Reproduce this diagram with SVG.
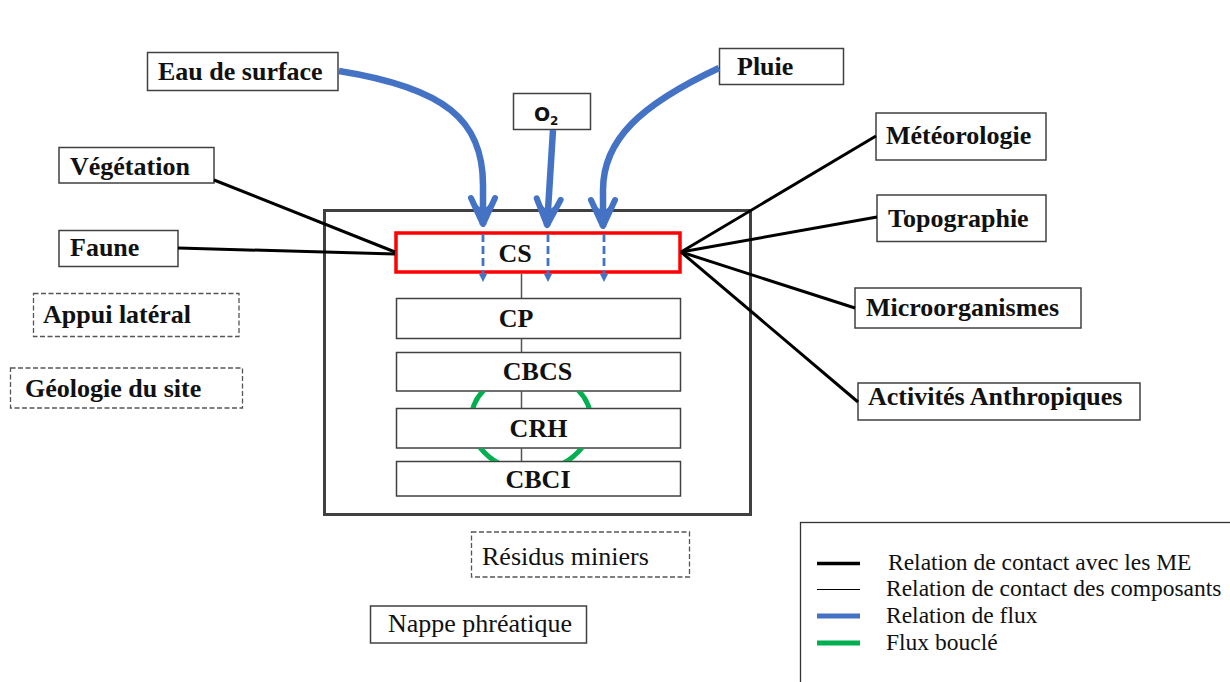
<svg xmlns="http://www.w3.org/2000/svg" width="1230" height="682" viewBox="0 0 1230 682">
<style>
.box{fill:#fff;stroke:#404040;stroke-width:1.5}
.dbox{fill:#fff;stroke:#555;stroke-width:1.3;stroke-dasharray:5 2.5}
.lb{font-family:"Liberation Serif","Times New Roman",serif;font-weight:bold;font-size:26px;fill:#111}
.lr{font-family:"Liberation Serif","Times New Roman",serif;font-size:26px;fill:#111}
.lg{font-family:"Liberation Serif","Times New Roman",serif;font-size:23.5px;fill:#111}
.me{stroke:#000;stroke-width:3;fill:none}
.comp{stroke:#555;stroke-width:1.5;fill:none}
.flux{stroke:#4472C4;stroke-width:6.5;fill:none;stroke-linecap:butt}
.fluxd{stroke:#4472C4;stroke-width:2.8;fill:none;stroke-dasharray:8 4}
.loop{stroke:#00B050;stroke-width:5;fill:none}
</style>
<defs>
<marker id="ah" markerUnits="userSpaceOnUse" orient="auto" overflow="visible" markerWidth="40" markerHeight="40" refX="0" refY="0">
<path d="M -27 -12 L -1 0 L -27 12" fill="none" stroke="#4472C4" stroke-width="6" stroke-linejoin="round" stroke-linecap="round"/>
<path d="M 0 0 L -22 -8 L -15 0 L -22 8 Z" fill="#4472C4"/>
</marker>
<marker id="ahs" markerUnits="userSpaceOnUse" orient="auto" overflow="visible" markerWidth="12" markerHeight="12" refX="0" refY="0">
<path d="M 0 0 L -8 -4 L -8 4 Z" fill="#4472C4"/>
</marker>
<clipPath id="gaps">
<rect x="380" y="391.5" width="320" height="16.5"/>
<rect x="380" y="448.5" width="320" height="12.5"/>
</clipPath>
</defs>
<rect width="1230" height="682" fill="#fff"/>

<g id="container">
<rect x="324.5" y="210.5" width="426" height="304" fill="none" stroke="#404040" stroke-width="3"/>
</g>

<g id="CS">
<rect x="396" y="233" width="284" height="39" fill="#fff" stroke="#FF0000" stroke-width="3.5"/>
<text class="lb" x="515" y="262" text-anchor="middle">CS</text>
</g>
<g id="CP">
<rect class="box" x="396.5" y="298.5" width="284" height="40"/>
<text class="lb" x="516" y="327" text-anchor="middle">CP</text>
</g>
<g id="CBCS">
<rect class="box" x="396.5" y="352.5" width="284" height="38.5"/>
<text class="lb" x="537.5" y="380" text-anchor="middle">CBCS</text>
</g>
<g id="CRH">
<rect class="box" x="396.5" y="408.5" width="284" height="39.5"/>
<text class="lb" x="538.5" y="437" text-anchor="middle">CRH</text>
</g>
<g id="CBCI">
<rect class="box" x="396.5" y="461.5" width="284" height="34.5"/>
<text class="lb" x="538" y="488" text-anchor="middle">CBCI</text>
</g>

<g id="eau-de-surface">
<rect class="box" x="147.5" y="52.5" width="190.5" height="38"/>
<text class="lb" x="158" y="80">Eau de surface</text>
</g>
<g id="pluie">
<rect class="box" x="719.5" y="48.5" width="124" height="36"/>
<text class="lb" x="737" y="75">Pluie</text>
</g>
<g id="o2">
<rect class="box" x="513.5" y="93.5" width="77" height="36"/>
<text x="534" y="121" font-family="'DejaVu Sans',sans-serif" font-weight="bold" font-size="19" fill="#111">O</text>
<text x="550" y="125" font-family="'DejaVu Sans',sans-serif" font-weight="bold" font-size="12" fill="#111">2</text>
</g>
<g id="vegetation">
<rect class="box" x="59" y="147.5" width="155" height="35.5"/>
<text class="lb" x="70" y="175">Végétation</text>
</g>
<g id="faune">
<rect class="box" x="59" y="230.5" width="119" height="36"/>
<text class="lb" x="70" y="256">Faune</text>
</g>
<g id="appui-lateral">
<rect class="dbox" x="33.5" y="293.5" width="205.5" height="43"/>
<text class="lb" x="43" y="323">Appui latéral</text>
</g>
<g id="geologie">
<rect class="dbox" x="10.5" y="368" width="232" height="40"/>
<text class="lb" x="25" y="397">Géologie du site</text>
</g>
<g id="meteorologie">
<rect class="box" x="876" y="113" width="170" height="47"/>
<text class="lb" x="886" y="144">Météorologie</text>
</g>
<g id="topographie">
<rect class="box" x="877" y="195" width="169" height="46.5"/>
<text class="lb" x="888" y="227">Topographie</text>
</g>
<g id="microorganismes">
<rect class="box" x="855" y="288" width="226" height="40"/>
<text class="lb" x="866" y="316">Microorganismes</text>
</g>
<g id="activites">
<rect class="box" x="858" y="383" width="282" height="37"/>
<text class="lb" x="868" y="405">Activités Anthropiques</text>
</g>
<g id="residus">
<rect class="dbox" x="471.5" y="532" width="218" height="45"/>
<text class="lr" x="482" y="565">Résidus miniers</text>
</g>
<g id="nappe">
<rect class="box" x="370.5" y="606" width="216" height="37"/>
<text class="lr" x="388" y="632">Nappe phréatique</text>
</g>

<g id="connectors">
<path class="me" d="M 214 180 L 395 252"/>
<path class="me" d="M 178 248 L 395 254"/>
<path class="me" d="M 681 252 L 876 136"/>
<path class="me" d="M 681 252 L 877 217"/>
<path class="me" d="M 681 252 L 855 308"/>
<path class="me" d="M 681 252 L 858 402"/>
<path class="comp" d="M 521.5 274 V 298 M 521.5 339 V 352 M 521.5 391 V 408 M 521.5 448 V 461"/>
<ellipse class="loop" cx="531" cy="421" rx="60" ry="50" clip-path="url(#gaps)"/>
<path class="flux" d="M 339 71 C 445 88 483 120 483 185 L 483 225" marker-end="url(#ah)"/>
<path class="flux" d="M 553 130 L 547 226" stroke-width="5.5" marker-end="url(#ah)"/>
<path class="flux" d="M 719 68 C 640 105 603 140 603 190 L 603 227" marker-end="url(#ah)"/>
<path class="fluxd" d="M 483 234 L 483 282" marker-end="url(#ahs)"/>
<path class="fluxd" d="M 548 234 L 548 282" marker-end="url(#ahs)"/>
<path class="fluxd" d="M 604 234 L 604 282" marker-end="url(#ahs)"/>
</g>

<g id="legend">
<rect x="800.5" y="522.5" width="440" height="170" fill="none" stroke="#333" stroke-width="1.3"/>
<line x1="817" y1="563.5" x2="860" y2="563.5" stroke="#000" stroke-width="3.5"/>
<line x1="817" y1="589.5" x2="860" y2="589.5" stroke="#000" stroke-width="1"/>
<line x1="817" y1="616" x2="860" y2="616" stroke="#4472C4" stroke-width="5"/>
<line x1="817" y1="643" x2="860" y2="643" stroke="#00B050" stroke-width="5"/>
<text class="lg" x="888" y="570">Relation de contact avec les ME</text>
<text class="lg" x="886" y="596">Relation de contact des composants</text>
<text class="lg" x="886" y="623">Relation de flux</text>
<text class="lg" x="886" y="650">Flux bouclé</text>
</g>
</svg>
